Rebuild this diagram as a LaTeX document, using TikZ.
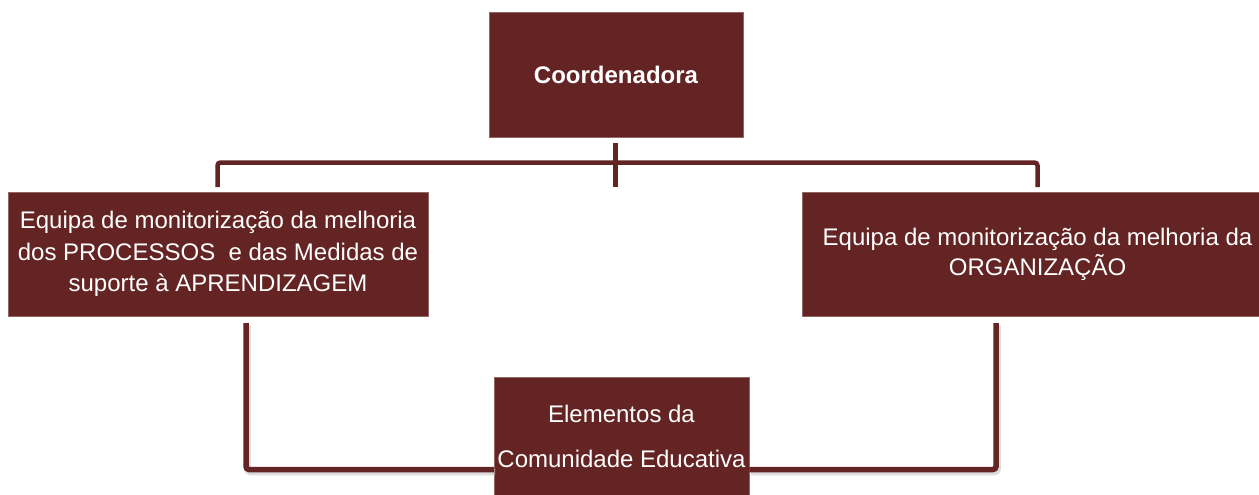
\documentclass[tikz,border=0pt]{standalone}
\usepackage{fontspec}
\setmainfont{Liberation Sans}
\usetikzlibrary{calc}
\definecolor{boxc}{RGB}{99,36,35}
\begin{document}
\begin{tikzpicture}[x=1pt,y=-1pt,
  orgbox/.style={rectangle,fill=boxc,draw=boxc!70!white,line width=0.5pt,text=white,align=center,inner sep=0pt},
  conn/.style={draw=boxc,line width=4.5pt},
  bconn/.style={draw=boxc,line width=5.5pt},
  shadowline/.style={draw=black!30,opacity=0.45,line width=6.5pt}]
\useasboundingbox (0,0) rectangle (1259,495);
\node[orgbox,minimum width=254pt,minimum height=125pt,font=\bfseries\fontsize{24}{29}\selectfont] (coord) at (616,74.5) {Coordenadora};
\node[orgbox,minimum width=420pt,minimum height=124pt,font=\fontsize{24}{31.5}\selectfont] (left) at (218,254)
  {Equipa de monitorização da melhoria\\dos PROCESSOS~ e das Medidas de\\suporte à APRENDIZAGEM};
\node[orgbox,minimum width=457pt,minimum height=124pt,font=\fontsize{24}{30}\selectfont] (right) at (1030.5,254)
  {\hspace*{14pt}Equipa de monitorização da melhoria da\\\hspace*{14pt}ORGANIZAÇÃO};
\node[orgbox,minimum width=255pt,minimum height=118pt,font=\fontsize{24}{45}\selectfont] (bottom) at (621.5,436)
  {Elementos da\\Comunidade Educativa};
% top connectors
\coordinate (c1) at (615.5,143);
\coordinate (c2) at (615.5,187);
\coordinate (hb) at (615.5,162.5);
\coordinate (l1) at (217.5,187);
\coordinate (r1) at (1037.5,187);
\draw[conn] (c1) -- (c2);
\draw[conn,rounded corners=3pt] (l1) |- (hb) -| (r1);
% bottom connectors
\coordinate (l2) at (246,323);
\coordinate (r2) at (996,323);
\draw[shadowline,rounded corners=3pt,transform canvas={shift={(1.5pt,-2.5pt)}}] (l2) |- ([yshift=-33.5pt]bottom.west);
\draw[shadowline,rounded corners=3pt,transform canvas={shift={(1.5pt,-2.5pt)}}] (r2) |- ([yshift=-33.5pt]bottom.east);
\draw[bconn,rounded corners=3pt] (l2) |- ([yshift=-33.5pt]bottom.west);
\draw[bconn,rounded corners=3pt] (r2) |- ([yshift=-33.5pt]bottom.east);
\end{tikzpicture}
\end{document}
